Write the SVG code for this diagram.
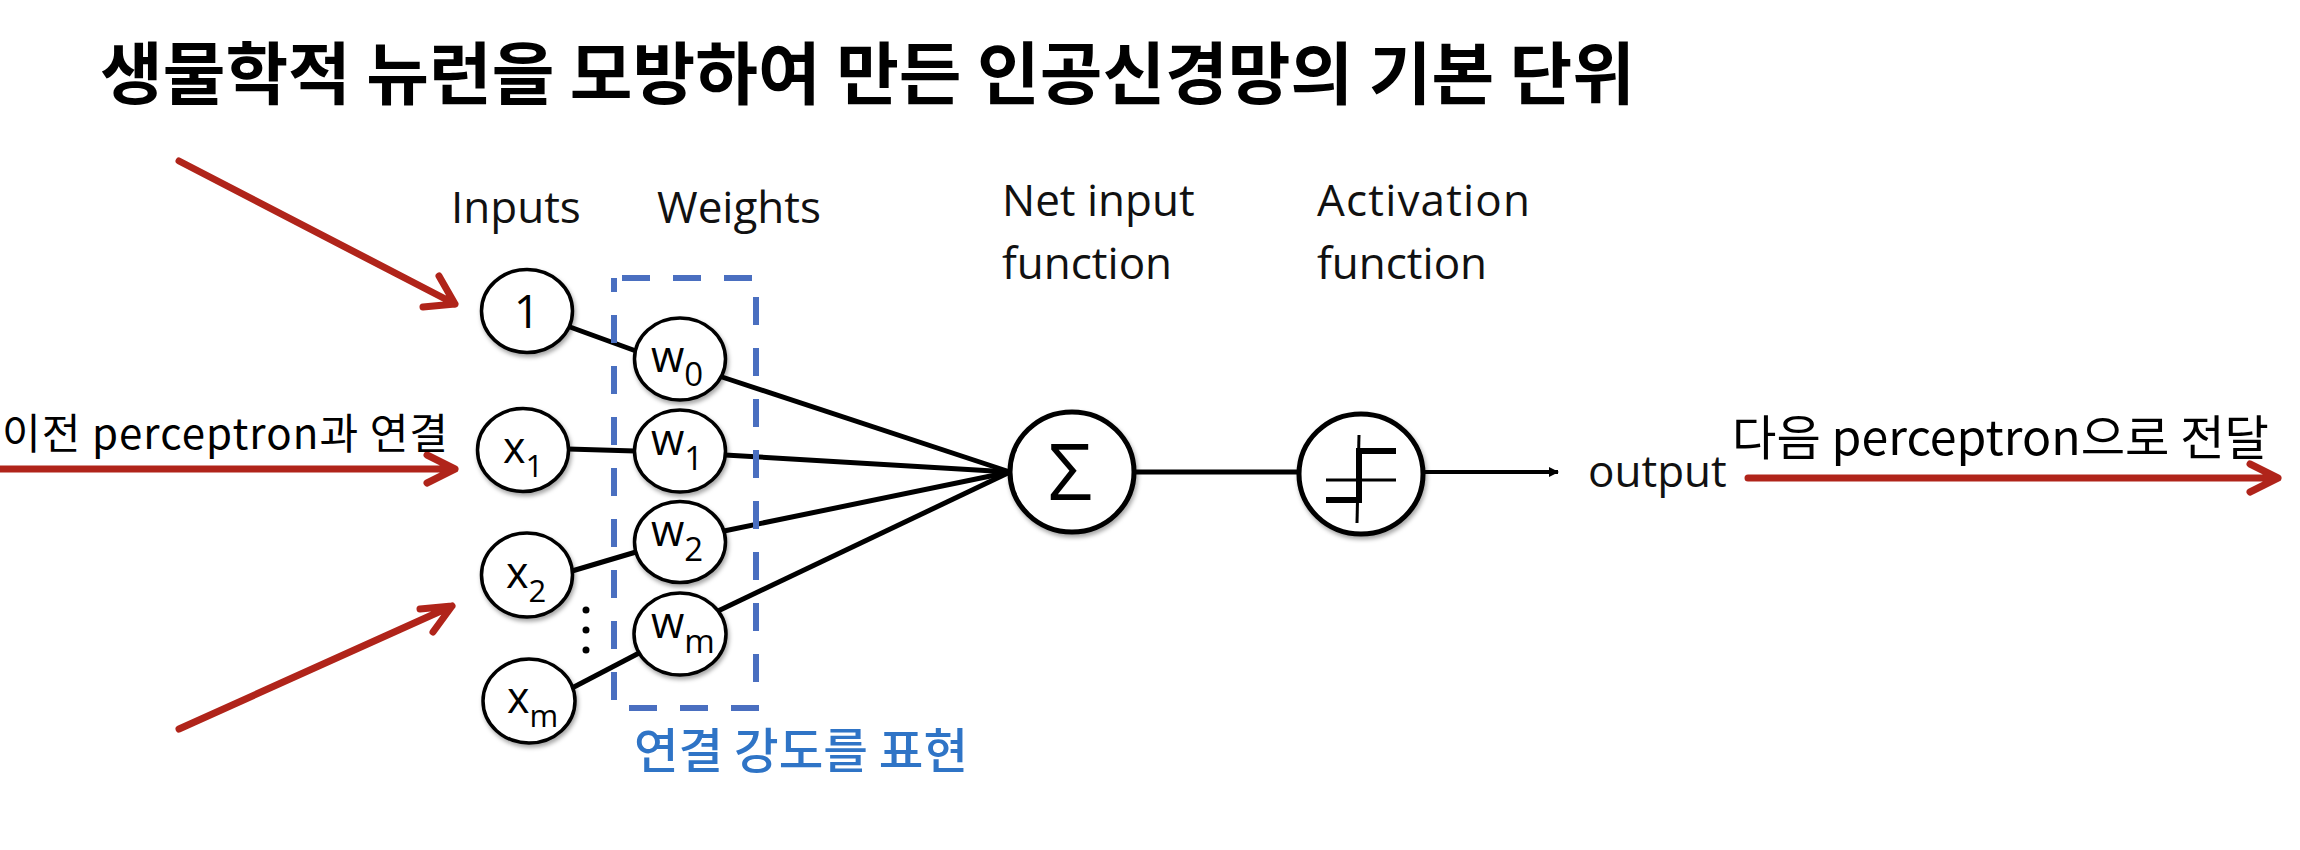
<svg xmlns="http://www.w3.org/2000/svg" width="2300" height="850" viewBox="0 0 2300 850">
  <defs>
    <style>
      .lbl { font-family: "Open Sans", "Liberation Sans", sans-serif; font-size: 44px; fill: #111; }
      .node ellipse { fill: #fff; stroke: #000; stroke-width: 3.5; filter: url(#sh); }
      .sym { font-family: "Open Sans", "Liberation Sans", sans-serif; fill: #000; }
      .kr { font-family: "Noto Sans CJK KR", sans-serif; }
      .conn line, .conn path.blk { stroke: #000; stroke-width: 5; fill: none; }
      .red { stroke: #B0241A; stroke-width: 7; fill: none; stroke-linecap: round; stroke-linejoin: round; }
    </style>
    <filter id="sh" x="-20%" y="-20%" width="150%" height="150%">
      <feDropShadow dx="1.5" dy="3" stdDeviation="2" flood-color="#000" flood-opacity="0.35"/>
    </filter>
    <marker id="ah" markerWidth="10" markerHeight="10" refX="9" refY="5" orient="auto" markerUnits="userSpaceOnUse">
      <path d="M0,0 L10,5 L0,10 Z" fill="#000"/>
    </marker>
  </defs>
  <rect width="2300" height="850" fill="#fff"/>

  <!-- Title -->
  <text id="title" x="100" y="99" class="kr" font-size="68" font-weight="bold" fill="#000" textLength="1535" lengthAdjust="spacingAndGlyphs">생물학적 뉴런을 모방하여 만든 인공신경망의 기본 단위</text>

  <!-- Column labels -->
  <g id="labels">
    <text class="lbl" x="451" y="223">Inputs</text>
    <text class="lbl" x="657" y="223">Weights</text>
    <text class="lbl" x="1002" y="216">Net input</text>
    <text class="lbl" x="1002" y="279">function</text>
    <text class="lbl" x="1317" y="216" textLength="213">Activation</text>
    <text class="lbl" x="1317" y="279">function</text>
  </g>

  <!-- Connectors -->
  <g id="connectors" class="conn">
    <line x1="570" y1="327" x2="636" y2="351"/>
    <line x1="568" y1="449" x2="635" y2="451"/>
    <line x1="572" y1="571" x2="636" y2="552"/>
    <line x1="572" y1="688" x2="641" y2="652"/>
    <line x1="722" y1="377" x2="1010" y2="472"/>
    <line x1="725" y1="455" x2="1010" y2="472"/>
    <line x1="724" y1="531" x2="1010" y2="472"/>
    <line x1="718" y1="611" x2="1010" y2="472"/>
    <line x1="1135" y1="472" x2="1298" y2="472"/>
    <line x1="1424" y1="472" x2="1558" y2="472" style="stroke-width:4" marker-end="url(#ah)"/>
  </g>

  <!-- Weight box -->
  <g id="weightbox">
    <rect x="614" y="278" width="142" height="430" fill="none" stroke="#4A6FC0" stroke-width="6" stroke-dasharray="28 23" stroke-dashoffset="-8"/>
    <text x="634" y="768" class="kr" font-size="48" font-weight="500" fill="#2F74C6" textLength="334" lengthAdjust="spacingAndGlyphs">연결 강도를 표현</text>
  </g>

  <!-- Input nodes -->
  <g id="in-1" class="node"><ellipse cx="527" cy="311" rx="45.5" ry="41.5"/><text class="sym" x="527" y="328" font-size="46" text-anchor="middle">1</text></g>
  <g id="in-x1" class="node"><ellipse cx="523" cy="450" rx="45.5" ry="41.5"/><text class="sym" x="503" y="463" font-size="43">x<tspan font-size="31" dy="14">1</tspan></text></g>
  <g id="in-x2" class="node"><ellipse cx="527" cy="575" rx="45.5" ry="42"/><text class="sym" x="506" y="588" font-size="43">x<tspan font-size="31" dy="14">2</tspan></text></g>
  <g id="dots"><circle cx="586" cy="610" r="3.5"/><circle cx="586" cy="630" r="3.5"/><circle cx="586" cy="650" r="3.5"/></g>
  <g id="in-xm" class="node"><ellipse cx="529" cy="701" rx="46" ry="42"/><text class="sym" x="507" y="713" font-size="43">x<tspan font-size="31" dy="14">m</tspan></text></g>

  <!-- Weight nodes -->
  <g id="w-0" class="node"><ellipse cx="680" cy="359" rx="45.5" ry="41"/><text class="sym" x="651" y="372" font-size="43">w<tspan font-size="33" dy="14">0</tspan></text></g>
  <g id="w-1" class="node"><ellipse cx="680" cy="451" rx="45.5" ry="41"/><text class="sym" x="651" y="455" font-size="43">w<tspan font-size="33" dy="15">1</tspan></text></g>
  <g id="w-2" class="node"><ellipse cx="680" cy="542" rx="45.5" ry="40.5"/><text class="sym" x="651" y="546" font-size="43">w<tspan font-size="33" dy="15">2</tspan></text></g>
  <g id="w-m" class="node"><ellipse cx="680" cy="634" rx="46" ry="41"/><text class="sym" x="651" y="638" font-size="43">w<tspan font-size="33" dy="15">m</tspan></text></g>

  <!-- Net input -->
  <g id="sum" class="node"><ellipse cx="1072" cy="472" rx="62" ry="60" style="stroke-width:5"/><text class="sym" x="1070" y="500" font-size="78" text-anchor="middle">Σ</text></g>

  <!-- Activation -->
  <g id="act" class="node">
    <ellipse cx="1361" cy="474" rx="62" ry="60" style="stroke-width:5"/>
    <line x1="1359" y1="435" x2="1357" y2="523" stroke="#000" stroke-width="3"/>
    <line x1="1326" y1="480" x2="1396" y2="480" stroke="#000" stroke-width="3"/>
    <path d="M1326,500 L1359,500 L1359,451 L1396,451" fill="none" stroke="#000" stroke-width="6"/>
  </g>

  <g id="output"><text class="lbl" x="1588" y="487">output</text></g>

  <!-- Red annotation arrows -->
  <g id="red-arrows">
    <path class="red" d="M179,161 L455,304 M423,307 L455,304 L439,276"/>
    <path class="red" d="M0,469 L455,469 M427,455 L455,469 L427,483"/>
    <path class="red" d="M179,729 L452,606 M433,632 L452,606 L420,609"/>
    <path class="red" d="M1748,478 L2278,478 M2250,464 L2278,478 L2250,492"/>
  </g>
  <g id="red-labels" class="kr" fill="#000">
    <text x="2" y="449" font-size="42" textLength="446" lengthAdjust="spacing">이전 perceptron과 연결</text>
    <text x="1732" y="455" font-size="48" textLength="537" lengthAdjust="spacingAndGlyphs">다음 perceptron으로 전달</text>
  </g>
</svg>
